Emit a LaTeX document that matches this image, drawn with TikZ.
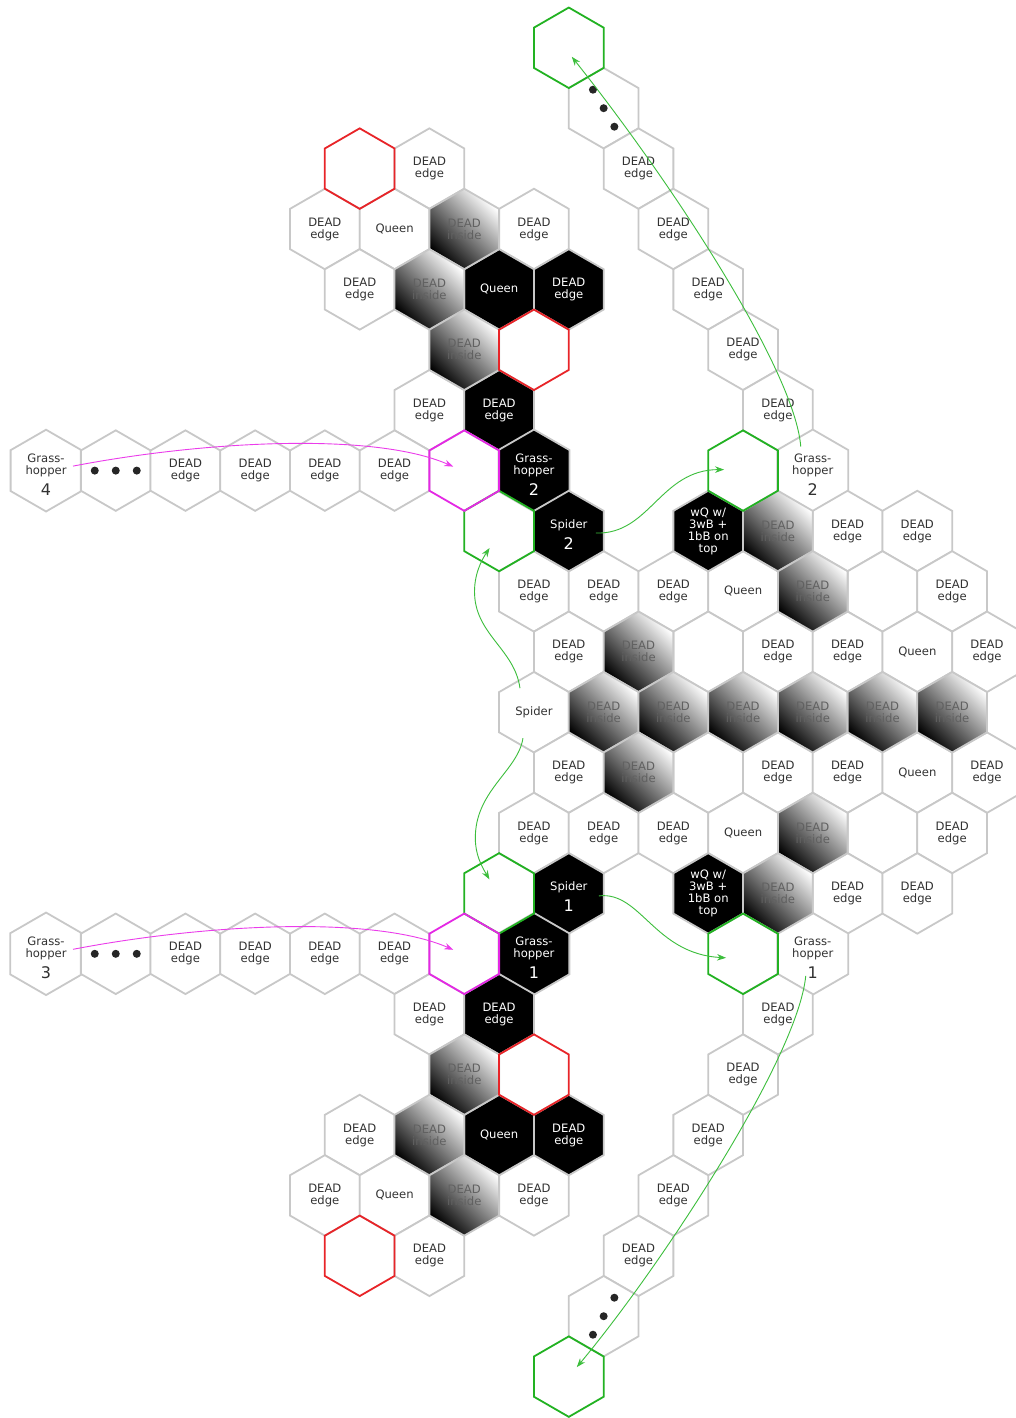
\documentclass[tikz,border=0pt]{standalone}
\usepackage{fontspec}
\setmainfont{DejaVu Sans}
\usetikzlibrary{shapes.geometric,arrows.meta}
\definecolor{hexgray}{RGB}{200,200,200}
\definecolor{hexred}{RGB}{232,36,40}
\definecolor{hexmag}{RGB}{228,40,228}
\definecolor{hexgreen}{RGB}{34,178,34}
\definecolor{arrgreen}{RGB}{60,190,60}
\definecolor{arrmag}{RGB}{235,60,235}
\definecolor{txtgray}{RGB}{50,50,50}
\newcommand{\hexnode}[5]{\node[#1] (#2) at ({11.2+34.85*(#3)},{47.8+60.4*(#4)}) {#5};}
\newcommand{\DE}{DEAD\\edge}
\newcommand{\DI}{DEAD\\inside}
\newcommand{\numtxt}[1]{{\fontsize{16}{16}\selectfont #1}}
\newcommand{\hopper}[1]{\rule{0pt}{17pt}Grass-\\hopper\\[6pt]\numtxt{#1}}
\newcommand{\spidertxt}[1]{\rule{0pt}{16pt}Spider\\[6pt]\numtxt{#1}}
\newcommand{\wqtxt}{wQ w/\\3wB +\\1bB on\\top}
\begin{document}
\begin{tikzpicture}[x=1pt,y=-1pt,
  hexbase/.style={regular polygon, regular polygon sides=6, shape border rotate=30,
    minimum size=80.5pt, inner sep=0pt, line width=1.8pt, align=center,
    font=\fontsize{11.6}{12}\selectfont},
  hw/.style={hexbase, draw=hexgray, fill=white, text=txtgray},
  hk/.style={hexbase, draw=hexgray, fill=black, text=white},
  hg/.style={hexbase, draw=hexgray, top color=white, bottom color=black, shading angle=-45, text=black!62},
  hr/.style={hexbase, draw=hexred},
  hm/.style={hexbase, draw=hexmag},
  hn/.style={hexbase, draw=hexgreen},
  dot/.style={fill=black!85},
  garrow/.style={draw=arrgreen, line width=0.9pt, -{Stealth[length=9pt,width=6.5pt]}},
  marrow/.style={draw=arrmag, line width=0.9pt, -{Stealth[length=9pt,width=6.5pt]}}
]
\useasboundingbox (0,0) rectangle (1016,1418);
\fill[white] (0,0) rectangle (1016,1418);

% ---------- white hexes ----------
\hexnode{hw}{dotsA}{17}{1}{}
\hexnode{hw}{a2}{12}{2}{\DE}
\hexnode{hw}{b2}{18}{2}{\DE}
\hexnode{hw}{a3}{9}{3}{\DE}
\hexnode{hw}{q3}{11}{3}{Queen}
\hexnode{hw}{c3}{15}{3}{\DE}
\hexnode{hw}{d3}{19}{3}{\DE}
\hexnode{hw}{a4}{10}{4}{\DE}
\hexnode{hw}{b4}{20}{4}{\DE}
\hexnode{hw}{a5}{21}{5}{\DE}
\hexnode{hw}{a6}{12}{6}{\DE}
\hexnode{hw}{b6}{22}{6}{\DE}
\hexnode{hw}{gh4}{1}{7}{\hopper{4}}
\hexnode{hw}{dotsB}{3}{7}{}
\hexnode{hw}{a7}{5}{7}{\DE}
\hexnode{hw}{b7}{7}{7}{\DE}
\hexnode{hw}{c7}{9}{7}{\DE}
\hexnode{hw}{d7}{11}{7}{\DE}
\hexnode{hw}{gh2w}{23}{7}{\hopper{2}}
\hexnode{hw}{a8}{24}{8}{\DE}
\hexnode{hw}{b8}{26}{8}{\DE}
\hexnode{hw}{a9}{15}{9}{\DE}
\hexnode{hw}{b9}{17}{9}{\DE}
\hexnode{hw}{c9}{19}{9}{\DE}
\hexnode{hw}{q9}{21}{9}{Queen}
\hexnode{hw}{e9}{25}{9}{}
\hexnode{hw}{d9}{27}{9}{\DE}
\hexnode{hw}{a10}{16}{10}{\DE}
\hexnode{hw}{e10}{20}{10}{}
\hexnode{hw}{b10}{22}{10}{\DE}
\hexnode{hw}{c10}{24}{10}{\DE}
\hexnode{hw}{q10}{26}{10}{Queen}
\hexnode{hw}{d10}{28}{10}{\DE}
\hexnode{hw}{sp}{15}{11}{Spider}
\hexnode{hw}{a12}{16}{12}{\DE}
\hexnode{hw}{e12}{20}{12}{}
\hexnode{hw}{b12}{22}{12}{\DE}
\hexnode{hw}{c12}{24}{12}{\DE}
\hexnode{hw}{q12}{26}{12}{Queen}
\hexnode{hw}{d12}{28}{12}{\DE}
\hexnode{hw}{a13}{15}{13}{\DE}
\hexnode{hw}{b13}{17}{13}{\DE}
\hexnode{hw}{c13}{19}{13}{\DE}
\hexnode{hw}{q13}{21}{13}{Queen}
\hexnode{hw}{e13}{25}{13}{}
\hexnode{hw}{d13}{27}{13}{\DE}
\hexnode{hw}{a14}{24}{14}{\DE}
\hexnode{hw}{b14}{26}{14}{\DE}
\hexnode{hw}{gh3}{1}{15}{\hopper{3}}
\hexnode{hw}{dotsC}{3}{15}{}
\hexnode{hw}{a15}{5}{15}{\DE}
\hexnode{hw}{b15}{7}{15}{\DE}
\hexnode{hw}{c15}{9}{15}{\DE}
\hexnode{hw}{d15}{11}{15}{\DE}
\hexnode{hw}{gh1w}{23}{15}{\hopper{1}}
\hexnode{hw}{a16}{12}{16}{\DE}
\hexnode{hw}{b16}{22}{16}{\DE}
\hexnode{hw}{a17}{21}{17}{\DE}
\hexnode{hw}{a18}{10}{18}{\DE}
\hexnode{hw}{b18}{20}{18}{\DE}
\hexnode{hw}{a19}{9}{19}{\DE}
\hexnode{hw}{q19}{11}{19}{Queen}
\hexnode{hw}{c19}{15}{19}{\DE}
\hexnode{hw}{d19}{19}{19}{\DE}
\hexnode{hw}{a20}{12}{20}{\DE}
\hexnode{hw}{b20}{18}{20}{\DE}
\hexnode{hw}{dotsD}{17}{21}{}

% ---------- black hexes ----------
\hexnode{hk}{kq4}{14}{4}{Queen}
\hexnode{hk}{k4}{16}{4}{\DE}
\hexnode{hk}{k6}{14}{6}{\DE}
\hexnode{hk}{gh2}{15}{7}{\hopper{2}}
\hexnode{hk}{sp2}{16}{8}{\spidertxt{2}}
\hexnode{hk}{wq8}{20}{8}{\wqtxt}
\hexnode{hk}{sp1}{16}{14}{\spidertxt{1}}
\hexnode{hk}{wq14}{20}{14}{\wqtxt}
\hexnode{hk}{gh1}{15}{15}{\hopper{1}}
\hexnode{hk}{k16}{14}{16}{\DE}
\hexnode{hk}{kq18}{14}{18}{Queen}
\hexnode{hk}{k18}{16}{18}{\DE}

% ---------- gradient hexes ----------
\hexnode{hg}{g3}{13}{3}{\DI}
\hexnode{hg}{g4}{12}{4}{\DI}
\hexnode{hg}{g5}{13}{5}{\DI}
\hexnode{hg}{g8}{22}{8}{\DI}
\hexnode{hg}{g9}{23}{9}{\DI}
\hexnode{hg}{g10}{18}{10}{\DI}
\hexnode{hg}{g11a}{17}{11}{\DI}
\hexnode{hg}{g11b}{19}{11}{\DI}
\hexnode{hg}{g11c}{21}{11}{\DI}
\hexnode{hg}{g11d}{23}{11}{\DI}
\hexnode{hg}{g11e}{25}{11}{\DI}
\hexnode{hg}{g11f}{27}{11}{\DI}
\hexnode{hg}{g12}{18}{12}{\DI}
\hexnode{hg}{g13}{23}{13}{\DI}
\hexnode{hg}{g14}{22}{14}{\DI}
\hexnode{hg}{g17}{13}{17}{\DI}
\hexnode{hg}{g18}{12}{18}{\DI}
\hexnode{hg}{g19}{13}{19}{\DI}

% ---------- coloured hexes ----------
\hexnode{hn}{n14}{14}{14}{}
\hexnode{hn}{n8}{14}{8}{}
\hexnode{hm}{m7}{13}{7}{}
\hexnode{hm}{m15}{13}{15}{}
\hexnode{hr}{r2}{10}{2}{}
\hexnode{hr}{r5}{15}{5}{}
\hexnode{hr}{r17}{15}{17}{}
\hexnode{hr}{r20}{10}{20}{}
\hexnode{hn}{ntop}{16}{0}{}
\hexnode{hn}{n7}{21}{7}{}
\hexnode{hn}{n15}{21}{15}{}
\hexnode{hn}{nbot}{16}{22}{}

% ---------- dots ----------
\foreach \s in {-1,0,1} {
  \fill[dot] ([shift={(\s*10.7,\s*18.5)}]dotsA.center) circle[radius=4pt];
  \fill[dot] ([shift={(\s*21,0)}]dotsB.center) circle[radius=4pt];
  \fill[dot] ([shift={(\s*21,0)}]dotsC.center) circle[radius=4pt];
  \fill[dot] ([shift={(-\s*10.7,\s*18.5)}]dotsD.center) circle[radius=4pt];
}

% ---------- arrows ----------
\draw[marrow] ([shift={(27,-4.5)}]gh4.center) .. controls +(130,-25) and +(-80,-35) .. ([shift={(-11,-4)}]m7.center);
\draw[marrow] ([shift={(27,-4.5)}]gh3.center) .. controls +(130,-25) and +(-80,-35) .. ([shift={(-11,-4)}]m15.center);
\draw[garrow] ([shift={(27,2)}]sp2.center) .. controls +(54,2) and +(-64,0) .. ([shift={(-19,-1)}]n7.center);
\draw[garrow] ([shift={(-12,-24)}]gh2w.center) .. controls +(-6,-77) and +(98,123) .. ([shift={(3,9)}]ntop.center);
\draw[garrow] ([shift={(-14,-24)}]sp.center) .. controls +(-5,-38) and +(2,40) .. ([shift={(-24.5,64)}]n8.center)
   .. controls +(-1,-20) and +(-8,12) .. ([shift={(-9.5,17)}]n8.center);
\draw[garrow] ([shift={(-11,26)}]sp.center) .. controls +(-5,32) and +(2,-45) .. ([shift={(-23.7,-59)}]n14.center)
   .. controls +(-1,20) and +(-7,-12) .. ([shift={(-9.7,-14)}]n14.center);
\draw[garrow] ([shift={(30,2.5)}]sp1.center) .. controls +(42,-5) and +(-72,-4) .. ([shift={(-17,4)}]n15.center);
\draw[garrow] ([shift={(-7,22)}]gh1w.center) .. controls +(-8,83) and +(82,-98) .. ([shift={(8,-9.5)}]nbot.center);
\end{tikzpicture}
\end{document}
